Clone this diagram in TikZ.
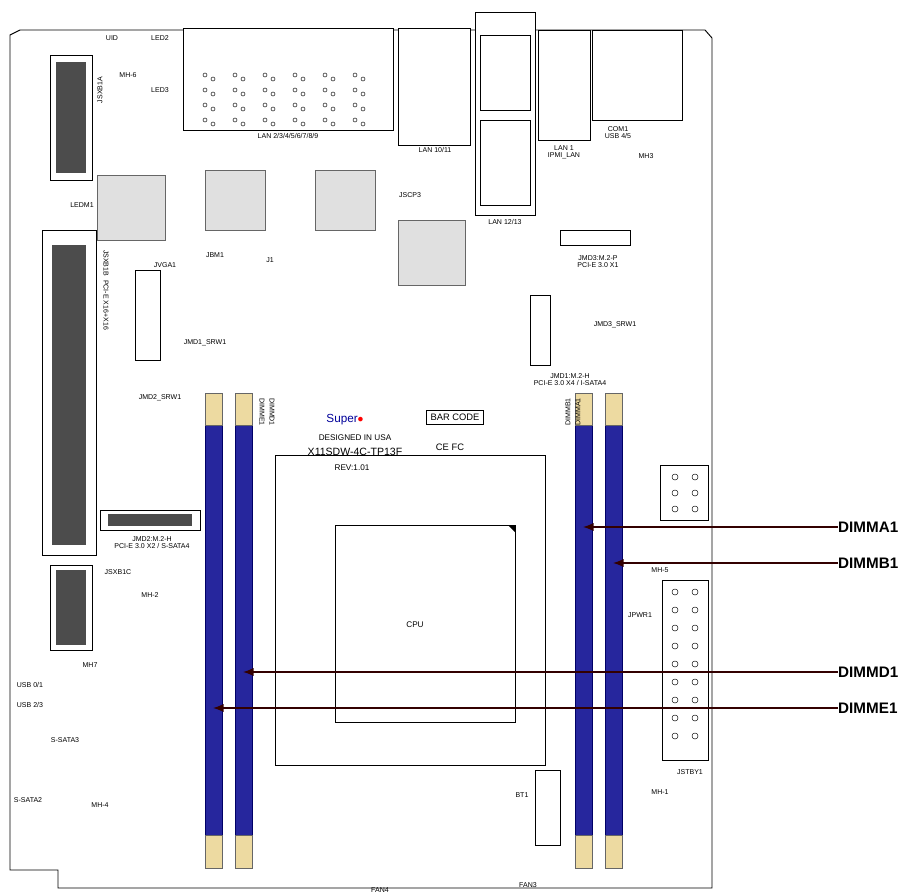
\documentclass[tikz,border=0pt]{standalone}
\usepackage{fontspec}
\setmainfont{Liberation Sans}
\usetikzlibrary{shapes,arrows,arrows.meta,positioning}
\tikzstyle{chip} = [draw=black!60, fill=black!12, thick]
\tikzstyle{slot} = [draw, fill=white, thick]
\tikzstyle{dimm} = [draw=blue!40!black, fill=blue!55!black!85!white]
\tikzstyle{dimmend} = [draw=black!60, fill=yellow!35!brown!45]
\tikzstyle{tiny} = [font=\fontsize{6}{6}\selectfont, inner sep=1]
\tikzstyle{callout} = [font=\fontsize{13}{13}\selectfont\bfseries, anchor=west, inner sep=0]
\tikzstyle{line} = [draw=black!80!red, line width=1.2pt, -{Latex[length=9pt,width=7pt]}]

\begin{document}
\begin{tikzpicture}[x=0.03cm, y=-0.03cm]
\useasboundingbox (0,0) rectangle (918,895);

% board
\draw[thick] (20,30) -- (705,30) -- (712,38) -- (712,888) -- (58,888) -- (58,870) -- (10,870) -- (10,35) -- cycle;

% rear I/O
\draw[slot] (183,28) rectangle (393,130);
\node[tiny] (lan29) at (288,136) {LAN 2/3/4/5/6/7/8/9};
\foreach \x in {205,235,265,295,325,355} {
  \foreach \y in {75,90,105,120} \draw (\x,\y) circle (2) (\x+8,\y+4) circle (2);
}
\draw[slot] (398,28) rectangle (470,145);
\node[tiny] (lan1011) at (435,150) {LAN 10/11};
\draw[slot] (475,12) rectangle (535,215);
\draw (480,35) rectangle (530,110) (480,120) rectangle (530,205);
\node[tiny] (lan1213) at (505,222) {LAN 12/13};
\draw[slot] (538,30) rectangle (590,140);
\node[tiny, align=center] (lan1) at (564,152) {LAN 1\\IPMI\_LAN};
\draw[slot] (592,30) rectangle (682,120);
\node[tiny, align=center] (com1) at (618,133) {COM1\\USB 4/5};
\node[tiny] (mh3) at (646,156) {MH3};

% chips
\draw[chip] (97,175) rectangle (165,240);
\draw[chip] (205,170) rectangle (265,230);
\draw[chip] (315,170) rectangle (375,230);
\draw[chip] (398,220) rectangle (465,285);

% PCI-E slots
\draw[slot] (50,55) rectangle (92,180);
\fill[black!70] (56,62) rectangle (86,173);
\node[tiny, rotate=90] (jsxb1a) at (100,90) {JSXB1A};
\draw[slot] (42,230) rectangle (96,555);
\fill[black!70] (52,245) rectangle (86,545);
\node[tiny, rotate=-90] (jsxb1b) at (106,290) {JSXB1B\ \ PCI-E X16+X16};
\draw[slot] (50,565) rectangle (92,650);
\fill[black!70] (56,570) rectangle (86,645);
\node[tiny] (jsxb1c) at (118,572) {JSXB1C};
\node[tiny] (ledm1) at (82,205) {LEDM1};

% M.2 slots
\draw[slot] (100,510) rectangle (200,530);
\fill[black!70] (108,514) rectangle (192,526);
\node[tiny, align=center] (jmd2) at (152,543) {JMD2:M.2-H\\PCI-E 3.0 X2 / S-SATA4};
\draw[slot] (560,230) rectangle (630,245);
\node[tiny, align=center] (jmd3) at (598,262) {JMD3:M.2-P\\PCI-E 3.0 X1};
\draw[slot] (530,295) rectangle (550,365);
\node[tiny, align=center] (jmd1) at (570,380) {JMD1:M.2-H\\PCI-E 3.0 X4 / I-SATA4};
\node[tiny] (jvga1) at (165,265) {JVGA1};
\draw[slot] (135,270) rectangle (160,360);
\node[tiny] (jmd1srw) at (205,343) {JMD1\_SRW1};
\node[tiny] (jmd2srw) at (160,398) {JMD2\_SRW1};
\node[tiny] (jmd3srw) at (615,325) {JMD3\_SRW1};
\node[tiny] (jbm1) at (215,255) {JBM1};
\node[tiny] (j1) at (270,260) {J1};
\node[tiny] (jscp3) at (410,195) {JSCP3};
\node[tiny] (uid) at (112,38) {UID};
\node[tiny] (led2) at (160,38) {LED2};
\node[tiny] (led3) at (160,90) {LED3};
\node[tiny] (mh6) at (128,75) {MH-6};
\node[tiny] (mh2) at (150,595) {MH-2};
\node[tiny] (mh7) at (90,665) {MH7};
\node[tiny] (mh5) at (660,570) {MH-5};
\node[tiny] (mh4) at (100,805) {MH-4};
\node[tiny] (mh1) at (660,792) {MH-1};
\node[tiny] (jpwr1) at (640,615) {JPWR1};
\draw[slot] (662,580) rectangle (708,760);
\foreach \y in {592,610,...,750} \draw (675,\y) circle (3) (695,\y) circle (3);
\draw[slot] (660,465) rectangle (708,520);
\foreach \y in {477,493,509} \draw (675,\y) circle (3) (695,\y) circle (3);
\node[tiny] (usb01) at (30,685) {USB 0/1};
\node[tiny] (usb23) at (30,705) {USB 2/3};
\node[tiny] (ssata3) at (65,740) {S-SATA3};
\node[tiny] (ssata2) at (28,800) {S-SATA2};
\node[tiny] (fan4) at (380,890) {FAN4};
\node[tiny] (fan3) at (528,885) {FAN3};
\node[tiny] (jstby1) at (690,772) {JSTBY1};
\node[tiny] (bt1) at (522,795) {BT1};
\draw[slot] (535,770) rectangle (560,845);

% DIMM slots
\foreach \x in {205,235,575,605} {
  \draw[dimm] (\x,425) rectangle (\x+17,835);
  \draw[dimmend] (\x,393) rectangle (\x+17,425);
  \draw[dimmend] (\x,835) rectangle (\x+17,868);
}
\node[tiny, rotate=-90] (dimme1) at (262,412) {DIMME1};
\node[tiny, rotate=-90] (dimmd1) at (272,412) {DIMMD1};
\node[tiny, rotate=90] (dimmb1) at (568,412) {DIMMB1};
\node[tiny, rotate=90] (dimma1) at (578,412) {DIMMA1};

% CPU socket
\draw[thick] (275,455) rectangle (545,765);
\draw (335,525) rectangle (515,722);
\fill (508,525) -- (515,525) -- (515,532) -- cycle;
\node[font=\fontsize{7}{7}\selectfont] (cpu) at (415,625) {CPU};

% silkscreen
\node[font=\fontsize{10}{10}\selectfont\scshape, text=blue!60!black] (super) at (345,420) {Super\textcolor{red}{$\bullet$}};
\node[tiny, font=\fontsize{7}{7}\selectfont] (designed) at (355,438) {DESIGNED IN USA};
\node[font=\fontsize{9}{9}\selectfont] (model) at (355,452) {X11SDW-4C-TP13F};
\node[tiny, font=\fontsize{7}{7}\selectfont] (rev) at (352,468) {REV:1.01};
\node[draw, font=\fontsize{8}{8}\selectfont] (barcode) at (455,417) {BAR CODE};
\node[font=\fontsize{8}{8}\selectfont] (ce) at (450,447) {CE\ FC};

% callouts
\node[callout] (la) at (838,527) {DIMMA1};
\node[callout] (lb) at (838,563) {DIMMB1};
\node[callout] (ld) at (838,672) {DIMMD1};
\node[callout] (le) at (838,708) {DIMME1};
\coordinate (ta) at (583,527);
\coordinate (tb) at (613,563);
\coordinate (td) at (243,672);
\coordinate (te) at (213,708);
\path [line] (la.west) -- (ta);
\path [line] (lb.west) -- (tb);
\path [line] (ld.west) -- (td);
\path [line] (le.west) -- (te);

\end{tikzpicture}
\end{document}
